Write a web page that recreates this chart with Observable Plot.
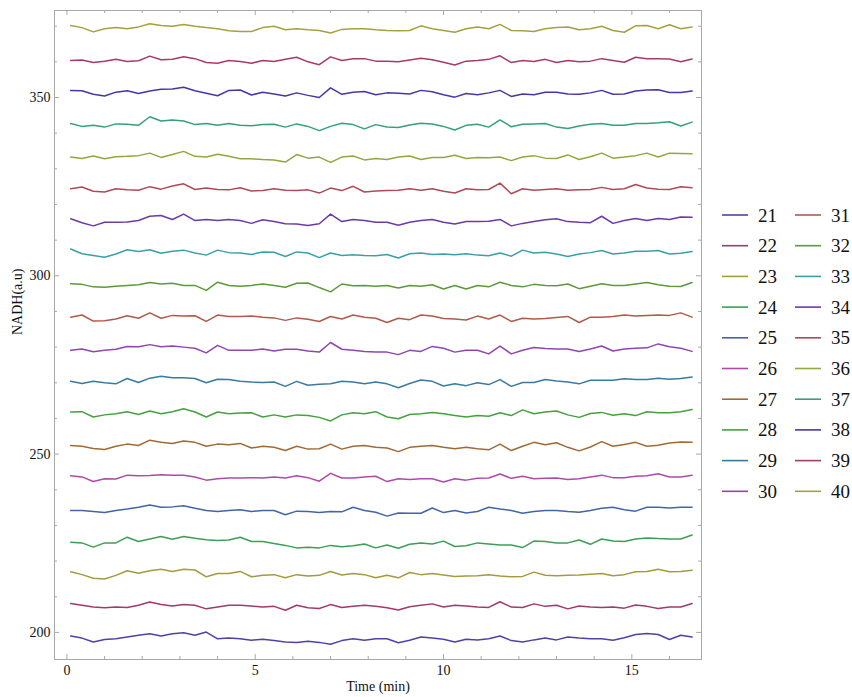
<!DOCTYPE html>
<html><head><meta charset="utf-8">
<script src="https://cdn.jsdelivr.net/npm/d3@7"></script>
<script src="https://cdn.jsdelivr.net/npm/@observablehq/plot@0.6"></script>
<style>
body{margin:0;background:#fff;}
#wrap{position:relative;width:852px;height:697px;font-family:"Liberation Serif","Times New Roman",serif;}
#legend{position:absolute;left:0;top:0;}
</style></head><body><div id="wrap"></div>
<script>
// sample times (min)
const times = [0.1,0.4,0.7,1.0,1.3,1.6,1.9,2.2,2.5,2.8,3.1,3.4,3.7,4.0,4.3,4.6,4.9,5.2,5.5,5.8,6.1,6.4,6.7,7.0,7.3,7.6,7.9,8.2,8.5,8.8,9.1,9.4,9.7,10.0,10.3,10.6,10.9,11.2,11.5,11.8,12.1,12.4,12.7,13.0,13.3,13.6,13.9,14.2,14.5,14.8,15.1,15.4,15.7,16.0,16.3,16.6];
const seriesNames = ["21","22","23","24","25","26","27","28","29","30","31","32","33","34","35","36","37","38","39","40"];
const colors = ["#4b44a8","#a3386c","#a59a3e","#3d9e55","#4464a8","#b04aaa","#a06a35","#46a040","#3a7aa0","#9046b0",
                "#b05a48","#5a9a38","#3aa0a8","#6a3aa8","#ad4a55","#90a840","#35a07a","#4338a8","#a83a6a","#a8a03e"];
// mean level of each trace (NADH a.u.)
const levels = [198.7,207.6,216.5,225.3,234.2,243.6,252.2,261.3,270.2,279.1,288.4,297.3,306.6,315.5,324.4,333.3,342.2,351.5,360.4,369.3];
const s21 = [0.3,-0.3,-1.4,-0.7,-0.5,0,0.5,0.9, 0.3,0.9,1.2,0.5,1.4,-0.5,-0.3,-0.5, -0.9,-0.6,-1.0,-1.4,-1.5,-1.2,-1.5,-2.0, -1.0,-0.5,-0.9,-0.5,-0.5,-1.6,-0.9,0, -0.3,-0.6,-1.4,-0.6,-0.8,-0.5,0.3,-1.0, -1.4,-0.8,-0.3,-0.8,0,-0.3,-0.5,-0.5, -0.9,-0.2,0.7,1.0,0.7,-0.7,0.5,0];
const s22 = [0.5,0,-0.5,-0.7,-0.5,-0.6,0,0.9, 0.2,-0.2,0.2,0,-1.0,-0.5,0,0, -0.2,-0.5,-0.3,-1.4,0,-0.7,-0.9,0.2, -0.6,-0.3,0,-0.3,-0.7,-1.3,-0.4,0, 0.4,-0.5,0,-0.2,-0.5,-0.6,1.0,-0.5, -0.6,0.4,-0.3,0,-1.0,-0.2,-0.5,-0.6, -0.5,-0.8,0.1,-0.3,-0.9,-0.5,-0.5,0.5];
const s23 = [0.5,-0.3,-1.3,-1.5,-0.5,0.8,0.1,0.8, 1.2,0.6,1.2,1.0,-0.9,0,0,0.6, -0.9,-0.5,-0.3,-1.2,-0.3,-0.7,-0.5,0.6, -0.4,0,-0.3,-1.2,-0.5,-1.2,0.3,-0.3, 0,-0.4,-0.8,-0.7,-0.6,-0.3,-0.7,-0.9, -0.8,0.4,-0.5,-0.6,-0.5,-0.4,-0.2,0, -0.6,-0.3,0.5,0.6,1.2,0.5,0.6,0.9];
const s24 = [0,-0.2,-1.4,-0.2,-0.2,1.4,0.2,0.9, 1.6,0.8,1.6,1.1,0.7,0.5,0.6,1.4, 0.2,0.2,-0.4,-0.9,-1.6,-1.4,-1.6,-0.9, -1.3,-1.0,-0.5,-1.6,-0.8,-1.7,-0.6,-0.2, -0.5,0.3,-1.2,-1.0,-0.2,-0.5,-0.8,-0.8, -1.5,0.3,0.2,-0.2,-0.2,0.6,-0.6,0.9, 0.3,0.2,0.9,1.2,1.0,0.9,0.9,2.0];
const s25 = [0,0,-0.3,-0.6,0,0.4,0.9,1.5, 0.9,1.0,1.3,0.6,0,-0.3,0,0.2, -0.3,0,0,-1.2,-0.2,-0.3,-0.6,-0.3, -0.4,0.9,0,-0.5,-1.6,-0.7,-0.8,-0.8, 0.7,-0.6,0,-0.7,-0.3,0.9,0.4,0, -0.8,-0.3,0,0,-0.3,-0.5,0,0.6, 0.9,0.2,-0.2,0.9,0.9,0.7,0.9,0.9];
const s26 = [0.3,0,-1.3,-0.5,-0.6,0.5,0.3,0.4, 0.6,0.5,0.5,0,-0.9,-0.5,-0.3,-0.3, -0.2,-0.3,0,-0.3,0.3,-0.2,-1.2,1.0, -0.3,-0.3,0,0.2,-1.3,-0.5,-0.7,-0.5, -0.5,-1.4,-0.5,-0.9,-0.4,-0.3,0.8,-0.4, 0.2,-0.5,-0.4,-0.3,-0.7,-0.5,0,0.5, -0.2,-0.2,0.2,0.3,0.9,0,0,0.5];
const s27 = [0.2,0,-0.6,-0.9,0,0.6,0.2,1.7, 1.1,0.8,1.5,1.1,0,0.6,0.4,0.8, -0.5,0,-0.3,-1.2,0,-0.8,-0.7,0.6, -0.8,0,0.2,-0.3,-0.5,-1.5,-0.3,0, 0.2,-0.3,-0.7,-0.3,-0.7,-1.0,0.6,-1.2, 0,1.1,0.4,1.0,-0.3,-1.3,-0.2,1.3, 0,0.5,1.1,0,0.3,0.9,1.2,1.1];
const s28 = [0.5,0.6,-0.9,-0.3,0,0.6,-0.2,0.8, 0,0.6,1.4,0.5,-0.9,0.5,0,0.2, 0.3,-0.9,-0.3,-0.9,-0.3,-0.5,-1.0,-2.0, -0.3,0.3,0,0.6,-0.9,-1.4,-0.2,0, 0.4,0,-0.5,-0.9,-0.5,-0.7,0.3,-0.5, 1.1,0,0.5,0.8,-0.3,-1.0,0.1,0.4, -0.4,0,-0.5,0.6,0.3,0.3,0.6,1.2];
const s29 = [0.2,-0.4,0.2,-0.2,-0.5,1.0,-0.1,1.1, 1.6,1.2,1.2,1.0,-0.2,0.8,0.7,0.2, 0,-0.1,0,-1.2,0.2,-0.9,-0.6,-0.5, 0.2,0,-0.5,0,-0.5,-1.6,-0.4,0.6, 0.2,-1.1,-0.5,-1.0,-0.2,-0.7,0.7,-1.2, -0.1,-0.1,0.7,0.3,0,-0.5,0.5,0.5, 0.5,0.9,0.7,0.7,1.1,0.8,1.0,1.4];
const s30 = [0,0.4,-0.4,0,0.3,1.1,1.0,1.6, 1.0,1.2,0.9,0.6,-0.7,1.4,0,0, 0,0.4,-0.2,0.3,0.3,-0.2,-0.5,2.2, 0.3,0,-0.3,-0.5,-0.5,-1.2,0,-0.3, 1.1,0.6,-0.5,0,0,-1.0,1.2,-1.0, 0,0.8,0.5,0.4,0.4,-0.3,0.4,1.2, -0.2,0.4,0.6,0.7,1.8,1.0,0.6,-0.3];
const s31 = [0,0.6,-1.1,-1.0,-0.5,0.4,-0.3,1.2, -0.3,0.5,0.3,0.4,-1.2,0.6,0.2,0.2, 0.3,0,-0.2,-0.9,-0.2,-0.6,-1.2,0.2, -0.5,0.6,0,-0.3,-1.5,-0.3,-0.7,0.6, 0.3,-0.4,-0.5,-0.8,0.3,-0.5,0.6,-1.2, -0.3,-0.5,-0.4,-0.1,0.2,-1.5,0,0, 0.2,0.6,0.3,0.5,0.6,0.5,1.2,0];
const s32 = [0.5,0.3,-0.4,-0.5,-0.2,0,0.2,0.8, 0.4,0.6,0,0,-1.4,0.9,0,-0.2, 0,0.4,0,-0.5,0.6,0.7,-0.6,-1.8, 0.4,-0.1,0,-0.2,0,-0.7,0,-0.2, 0.2,-1.0,0,-1.0,0,-0.4,0.9,0, -0.4,0.3,0,-0.1,0.4,-0.9,-0.2,0.5, 0,0,0.4,0.8,0.2,-0.2,-0.3,0.8];
const s33 = [0.9,-0.4,-0.9,-1.4,-0.5,0.7,0.2,0.7, -0.3,0.3,0.6,-0.2,-0.8,0.6,-0.1,-0.2, -0.6,0.1,0,-1.2,0.1,-0.2,-1.5,-0.2, -0.9,-0.7,-0.9,-1.0,-0.6,-1.6,-0.4,-0.2, -0.6,-0.5,-0.7,-0.4,-0.8,-1.0,-0.2,-1.1, 0.6,-0.2,0,-0.5,-1.2,-0.5,-0.1,0.5, -0.5,-0.2,0.3,0.3,0.5,-0.5,-0.3,0.2];
const s34 = [0.5,-0.6,-1.5,-0.5,-0.5,-0.4,0,1.2, 1.4,0.3,1.8,0,0.3,0,0.3,0, -0.8,0.2,-0.3,-0.9,-1.0,-1.4,-0.9,1.8, -0.3,0.3,0,-0.5,-0.5,-1.3,-0.5,0, 0.3,-0.5,-1.0,-0.3,-0.3,-0.2,0.3,-1.5, -0.8,-0.3,0.2,0.5,-0.3,-0.5,-0.6,1.2, -0.8,0,0.6,0,0.6,0.3,1.0,0.9];
const s35 = [0,0.5,-0.7,-0.9,0,-0.3,-0.4,0.6, -0.1,0.8,1.4,-0.2,0.2,-0.2,-0.3,0.3, -0.6,-0.5,0,-0.4,-0.5,-0.3,-1.2,0.2, -0.5,0.7,-0.9,-0.6,-0.5,-0.4,0,-0.4, 0,-0.7,-1.2,0,-0.3,-0.2,1.6,-1.4, 0,-0.4,-0.2,0,-0.4,-0.3,-0.2,0.4, -0.2,0,1.2,0.2,-0.1,-0.2,0.6,0.3];
const s36 = [0,-0.4,0.3,-0.5,0.1,0.2,0.4,1.1, -0.1,0.7,1.6,0.2,0,0.8,0.2,-0.5, -0.5,-0.7,-0.8,-1.4,0.7,-0.3,0,-1.5, 0,0.3,-0.8,-0.4,-0.7,0,0.3,-0.7, -0.1,-0.1,0.5,-0.4,-0.1,-0.2,0,-1.0, 0,0.4,-0.3,-0.4,0.6,-0.7,0.1,1.1, -0.3,0,0.4,1.1,0,1.1,1.0,0.9];
const s37 = [0.5,-0.3,0,-0.5,0.4,0.3,0,2.4, 1.2,1.5,1.2,0.2,0.5,0,0.5,0, -0.1,0.2,0.3,-0.5,0.4,-0.3,-1.5,-0.3, 0.6,0.2,-1.0,0.2,-0.5,-0.6,0.1,0.6, 0.4,-0.3,-1.3,0,0.3,-0.5,1.5,-0.4, 0.3,0.4,0.5,-0.5,-0.9,-0.2,0.3,0.5, 0,0,0.5,0.5,0.7,1.0,-0.2,0.9];
const s38 = [0.5,0.4,-0.6,-1.1,0,0.4,-0.4,0.3, 0.8,0.9,1.4,0.4,-0.3,-1.0,0.5,0.6, -0.8,0,-0.5,-1.1,-0.2,-0.9,-1.5,1.2, -0.6,0,0.2,-0.7,-0.2,-0.3,-0.5,0.5, 0.1,-0.7,-1.4,-0.4,-0.7,-0.2,0.5,-1.2, -0.5,-0.7,0,0,-0.5,-0.6,-0.2,0.5, -0.6,-0.5,0.3,0.6,0.7,-0.1,-0.1,0.3];
const s39 = [0,0.1,-0.6,-0.2,0.3,-0.3,-0.1,1.2, 0.2,0.3,1.0,0.5,-0.6,-0.8,0,-0.3, -0.8,0,-0.3,0.3,0.9,-0.4,-1.2,1.0, 0,0.5,0.5,-0.2,-0.2,-0.4,0.1,0.6, 0.2,-0.5,-1.3,-0.2,0,0.3,1.3,-0.6, 0,-0.3,0.3,-0.6,0,-0.4,-0.2,0.5, 0,-0.5,0.9,0.5,0.5,0.4,-0.4,0.4];
const s40 = [0.9,0.3,-0.9,0,0.3,0,0.5,1.4, 0.9,0.7,1.2,0.7,0.3,0,-0.6,-0.8, -0.8,0.3,0.7,-0.3,0,-0.3,-0.5,-1.2, -0.2,0,0,-0.3,-0.5,-0.6,-0.5,0.8, 0,-0.5,-1.0,0,0.5,0,1.2,-0.5, -0.6,-0.8,0,0.3,0.5,-0.3,0,0.7, -0.5,-1.0,0.8,0.9,0,1.1,0,0.5];
const fluct = [s21,s22,s23,s24,s25,s26,s27,s28,s29,s30,s31,s32,s33,s34,s35,s36,s37,s38,s39,s40];
const xMajor = [0,5,10,15];
const xMinor = [1,2,3,4,6,7,8,9,11,12,13,14,16];
const yMajor = [200,250,300,350];
const yMinor = [210,220,230,240,260,270,280,290,310,320,330,340,360,370];

const rows = [];
seriesNames.forEach((name, i) => {
  times.forEach((t, j) => rows.push({series: name, t, v: levels[i] + fluct[i][j]}));
});

const W = 852, H = 697, mL = 54, mR = 151, mT = 10, mB = 38;
const pw = W - mL - mR, ph = H - mT - mB;
const grey = "#a8a8a8";
const font = "'Liberation Serif','Times New Roman',serif";

const chart = Plot.plot({
  width: W, height: H,
  marginLeft: mL, marginRight: mR, marginTop: mT, marginBottom: mB,
  style: {fontFamily: font, fontSize: "14px", background: "#fff", color: "#111"},
  x: {domain: [-0.33, 16.85]},
  y: {domain: [192.4, 374.4]},
  color: {domain: seriesNames, range: colors},
  marks: [
    Plot.frame({stroke: grey}),
    Plot.tickX(xMajor, {x: d => d, insetTop: ph - 5, stroke: grey}),
    Plot.tickX(xMinor, {x: d => d, insetTop: ph - 3, stroke: grey}),
    Plot.tickX(xMajor, {x: d => d, insetBottom: ph - 5, stroke: grey}),
    Plot.tickX(xMinor, {x: d => d, insetBottom: ph - 3, stroke: grey}),
    Plot.tickY(yMajor, {y: d => d, insetRight: pw - 5, stroke: grey}),
    Plot.tickY(yMinor, {y: d => d, insetRight: pw - 3, stroke: grey}),
    Plot.tickY(yMajor, {y: d => d, insetLeft: pw - 5, stroke: grey}),
    Plot.tickY(yMinor, {y: d => d, insetLeft: pw - 3, stroke: grey}),
    Plot.axisX(xMajor, {tickSize: 0, tickPadding: 6, fontSize: 14, label: null}),
    Plot.axisY(yMajor, {tickSize: 0, tickPadding: 4, fontSize: 14, label: null}),
    Plot.line(rows, {x: "t", y: "v", z: "series", stroke: "series", strokeWidth: 1.5}),
    Plot.text(["Time (min)"], {text: d => d, frameAnchor: "bottom", dy: 31, fontSize: 14}),
    Plot.text(["NADH(a.u)"], {text: d => d, frameAnchor: "left", dx: -37, rotate: -90, fontSize: 14})
  ]
});

const wrap = document.getElementById("wrap");
wrap.appendChild(chart);

// legend (two columns) placed to the right of the panel
const ns = "http://www.w3.org/2000/svg";
const leg = document.createElementNS(ns, "svg");
leg.setAttribute("id", "legend");
leg.setAttribute("width", W);
leg.setAttribute("height", H);
leg.style.position = "absolute"; leg.style.left = "0px"; leg.style.top = "0px";
leg.style.pointerEvents = "none";
seriesNames.forEach((name, i) => {
  const col = i < 10 ? 0 : 1, row = i % 10;
  const x0 = col === 0 ? 722 : 795;
  const cy = 215 + row * 30.7;
  const ln = document.createElementNS(ns, "line");
  ln.setAttribute("x1", x0); ln.setAttribute("x2", x0 + 26);
  ln.setAttribute("y1", cy); ln.setAttribute("y2", cy);
  ln.setAttribute("stroke", colors[i]); ln.setAttribute("stroke-width", 1.6);
  leg.appendChild(ln);
  const tx = document.createElementNS(ns, "text");
  tx.setAttribute("x", x0 + 36); tx.setAttribute("y", cy + 6.5);
  tx.setAttribute("font-family", font); tx.setAttribute("font-size", 19);
  tx.setAttribute("fill", "#111");
  tx.textContent = name;
  leg.appendChild(tx);
});
wrap.appendChild(leg);
</script></body></html>
